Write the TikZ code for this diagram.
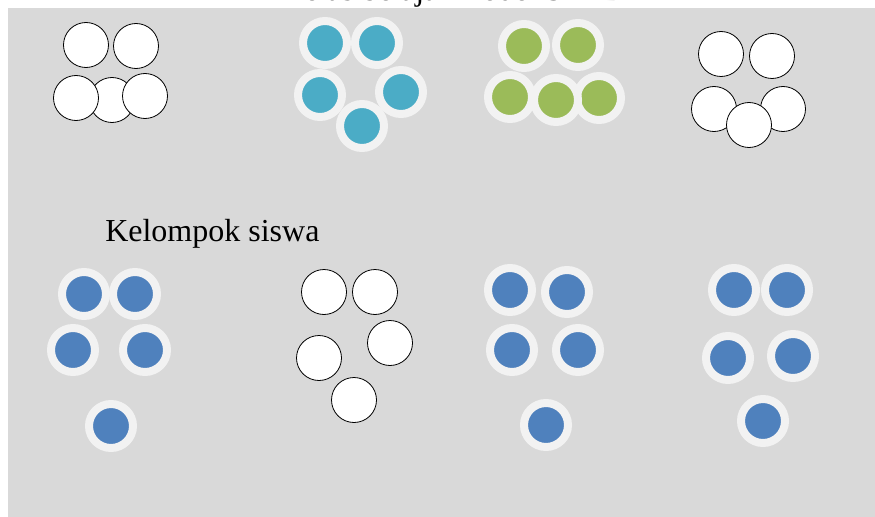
\documentclass[tikz,border=0pt]{standalone}
\usepackage{fontspec}
\setmainfont{Liberation Serif}
\usepackage{xcolor}
\usetikzlibrary{positioning}

\definecolor{latar}{HTML}{D9D9D9}
\definecolor{cincin}{HTML}{F2F2F2}
\definecolor{tosca}{HTML}{4BACC6}
\definecolor{hijau}{HTML}{9BBB59}
\definecolor{biru}{HTML}{4F81BD}

\tikzset{
    siswa/.style={circle, draw=black, fill=white, line width=0.6pt,
        inner sep=0pt, minimum size=33.75pt},
    anggota/.style={circle, draw=cincin, fill=#1, line width=6pt,
        inner sep=0pt, minimum size=33pt},
    judul/.style={inner sep=0pt, font=\fontsize{24}{28}\selectfont}
}

\begin{document}
\begin{tikzpicture}[x=0.75pt, y=-0.75pt]
    \useasboundingbox (0,0) rectangle (875,517);
    \fill[latar] (8,8) rectangle (875,517);
    \node[judul, anchor=base west] (kelas) at (281,1) {Kelas belajar model STAD};

    % baris atas
    \foreach \n/\x/\y in {c/112/100, a/86/45, b/136/46, d/76/98, e/145/96}
        \node[siswa] (t1\n) at (\x,\y) {};
    \foreach \n/\x/\y in {a/325/43, b/377/43, c/320/95, d/401/92, e/362/126}
        \node[anggota=tosca] (t2\n) at (\x,\y) {};
    \foreach \n/\x/\y in {c/510/97, e/599/98, a/524/46, b/578/45, d/556/100}
        \node[anggota=hijau] (t3\n) at (\x,\y) {};
    \foreach \n/\x/\y in {a/721/54, b/772/56, c/714/109, d/783/109, e/749/125}
        \node[siswa] (t4\n) at (\x,\y) {};

    \node[judul, anchor=base west] (kelompok) at (105,241) {Kelompok siswa};

    % baris bawah
    \foreach \n/\x/\y in {a/84/294, b/135/294, c/73/350, d/145/350, e/111/426}
        \node[anggota=biru] (b1\n) at (\x,\y) {};
    \foreach \n/\x/\y in {a/324/292, b/375/292, c/319/358, d/390/343, e/354/400}
        \node[siswa] (b2\n) at (\x,\y) {};
    \foreach \n/\x/\y in {a/510/290, b/567/292, c/512/350, d/578/350, e/546/425}
        \node[anggota=biru] (b3\n) at (\x,\y) {};
    \foreach \n/\x/\y in {a/734/290, b/787/290, c/728/358, d/793/356, e/763/421}
        \node[anggota=biru] (b4\n) at (\x,\y) {};
\end{tikzpicture}
\end{document}
